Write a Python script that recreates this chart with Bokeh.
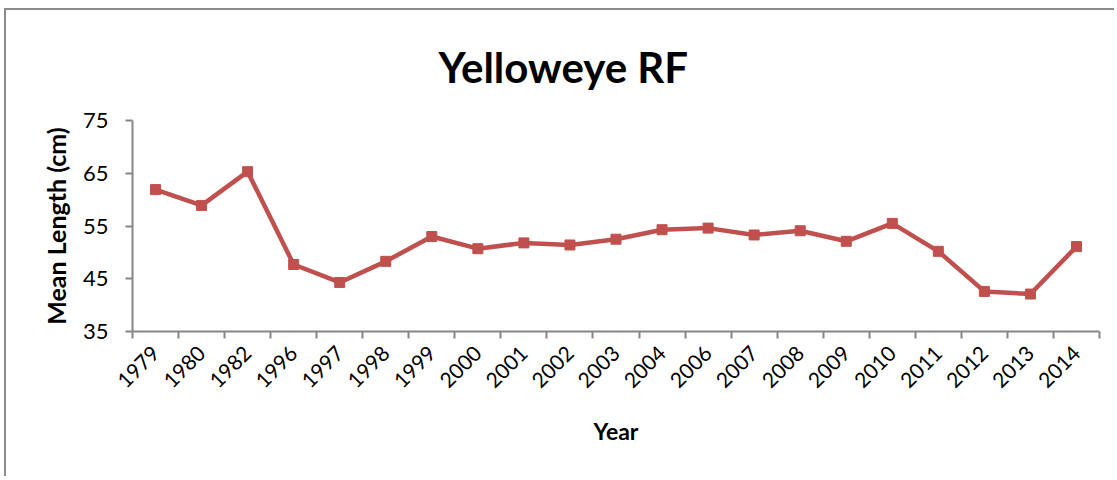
from bokeh.plotting import figure
from bokeh.models import FixedTicker, Range1d, Title
from bokeh.layouts import column
from bokeh.embed import file_html
from bokeh.resources import INLINE

years = ["1979", "1980", "1982", "1996", "1997", "1998", "1999", "2000", "2001", "2002",
         "2003", "2004", "2006", "2007", "2008", "2009", "2010", "2011", "2012", "2013", "2014"]
mean_length = [61.9, 58.9, 65.3, 47.7, 44.3, 48.3, 53.0, 50.7, 51.8, 51.4,
               52.5, 54.3, 54.6, 53.3, 54.1, 52.1, 55.5, 50.2, 42.6, 42.1, 51.1]
y_ticks = [35, 45, 55, 65, 75]
title_text = "Yelloweye RF"

FONT = "Lato"
RED = "#C0504D"
GRAY = "#868686"

n = len(years)
xs = [i + 0.5 for i in range(n)]

p = figure(width=1104, height=466, output_backend="svg", toolbar_location=None,
           x_range=Range1d(0, n), y_range=Range1d(35, 75),
           min_border_left=126, min_border_right=11, min_border_top=110, min_border_bottom=145)
p.title = None
p.outline_line_color = None
p.xgrid.visible = False
p.ygrid.visible = False

t = Title(text=title_text, align="left", offset=306, standoff=57,
          text_font=FONT, text_font_size="42px", text_font_style="bold", text_color="black")
p.add_layout(t, "above")

p.line(xs, mean_length, line_color=RED, line_width=4.5)
p.scatter(xs, mean_length, marker="square", size=10, fill_color=RED, line_color=RED)

xa = p.xaxis[0]
xa.ticker = FixedTicker(ticks=xs, minor_ticks=list(range(n + 1)))
xa.major_label_overrides = {x: y for x, y in zip(xs, years)}
xa.major_label_orientation = 0.785398
xa.major_tick_out = 0
xa.major_tick_in = 0
xa.minor_tick_out = 7
xa.minor_tick_in = 0
xa.minor_tick_line_color = GRAY
xa.minor_tick_line_width = 2
xa.axis_line_color = GRAY
xa.axis_line_width = 2
xa.major_label_standoff = 11
xa.major_label_text_font = FONT
xa.major_label_text_font_size = "21px"
xa.major_label_text_color = "black"
xa.axis_label = "Year"
xa.axis_label_text_font = FONT
xa.axis_label_text_font_size = "23px"
xa.axis_label_text_font_style = "bold"
xa.axis_label_text_color = "black"
xa.axis_label_standoff = 19

ya = p.yaxis[0]
ya.ticker = FixedTicker(ticks=y_ticks, minor_ticks=[])
ya.major_tick_out = 7
ya.major_tick_in = 0
ya.major_tick_line_color = GRAY
ya.major_tick_line_width = 2
ya.minor_tick_line_color = None
ya.axis_line_color = GRAY
ya.axis_line_width = 2
ya.major_label_standoff = 17
ya.major_label_text_font = FONT
ya.major_label_text_font_size = "22px"
ya.major_label_text_color = "black"
ya.axis_label = "Mean Length (cm)"
ya.axis_label_text_font = FONT
ya.axis_label_text_font_size = "25px"
ya.axis_label_text_font_style = "bold"
ya.axis_label_text_color = "black"
ya.axis_label_standoff = 9

page = column(p, width=1110,
              styles={"margin-left": "4px", "margin-top": "8px",
                      "border-left": "2px solid #8c8c8c", "border-top": "2px solid #8c8c8c"})

open("out.html", "w").write(file_html(page, INLINE))
